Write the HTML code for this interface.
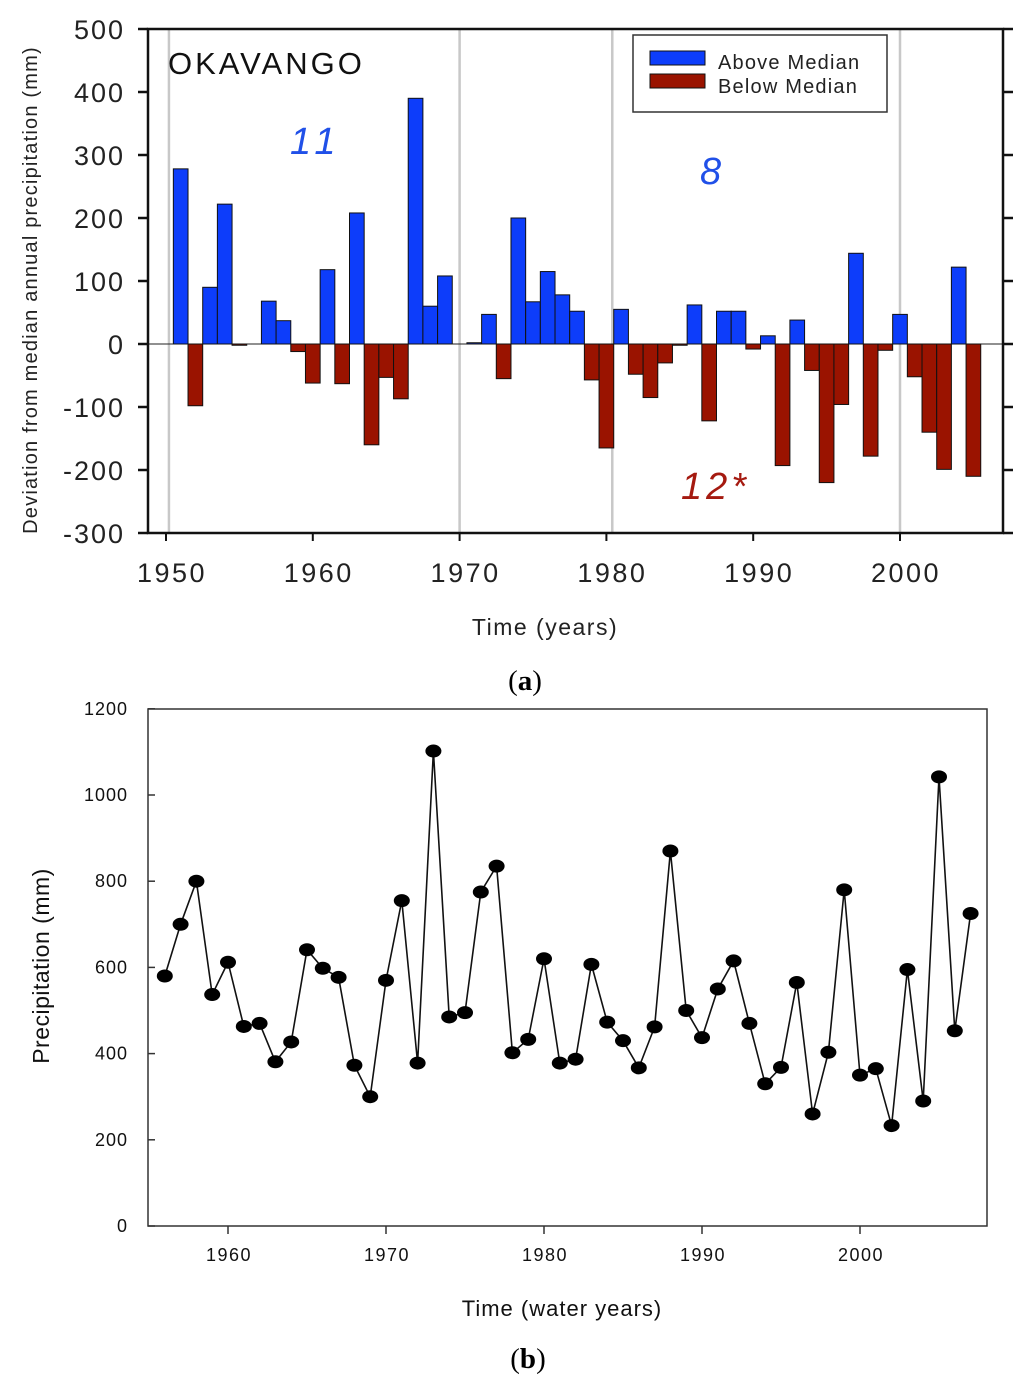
<!DOCTYPE html>
<html><head><meta charset="utf-8"><style>
body{margin:0;background:#fff;}
svg{display:block;font-family:"Liberation Sans",Arial,sans-serif;}
</style></head><body>
<svg width="1024" height="1377" viewBox="0 0 1024 1377">
<g id="chartA"></g>
<g id="chartB"></g>
</svg>
<script>
// ---- Chart (a) data ----
const yearsA = [1951,1952,1953,1954,1955,1956,1957,1958,1959,1960,1961,1962,1963,1964,1965,1966,1967,1968,1969,1970,1971,1972,1973,1974,1975,1976,1977,1978,1979,1980,1981,1982,1983,1984,1985,1986,1987,1988,1989,1990,1991,1992,1993,1994,1995,1996,1997,1998,1999,2000,2001,2002,2003,2004,2005];
const deviationA = [278,-98,90,222,-2,0,68,37,-12,-62,118,-63,208,-160,-53,-87,390,60,108,0,2,47,-55,200,67,115,78,52,-57,-165,55,-48,-85,-30,-2,62,-122,52,52,-8,13,-193,38,-42,-220,-96,144,-178,-10,47,-52,-140,-199,122,-210];
const yTicksA = [500,400,300,200,100,0,-100,-200,-300];
const xTicksA = [1950,1960,1970,1980,1990,2000];
const gridYearsA = [1950.2,1970,1980.4,2000];
// ---- Chart (b) data ----
const yearsB = [1956,1957,1958,1959,1960,1961,1962,1963,1964,1965,1966,1967,1968,1969,1970,1971,1972,1973,1974,1975,1976,1977,1978,1979,1980,1981,1982,1983,1984,1985,1986,1987,1988,1989,1990,1991,1992,1993,1994,1995,1996,1997,1998,1999,2000,2001,2002,2003,2004,2005,2006,2007];
const precipB = [580,700,800,537,612,463,470,381,427,641,598,577,373,300,570,755,378,1102,485,495,775,835,402,433,620,378,387,607,473,430,367,462,870,500,437,550,615,470,330,368,565,260,403,780,350,365,233,595,290,1042,453,725];
const yTicksB = [0,200,400,600,800,1000,1200];
const xTicksB = [1960,1970,1980,1990,2000];

const NS="http://www.w3.org/2000/svg";
function mk(parent,tag,attrs,text){const e=document.createElementNS(NS,tag);for(const k in attrs)e.setAttribute(k,attrs[k]);if(text!==undefined)e.textContent=text;parent.appendChild(e);return e;}

// ---------- Chart A ----------
(function(){
const g=document.getElementById('chartA');
const L=148,R=1003,T=29,B=533;
const xA=y=>166+(y-1950)*14.68;
const yA=v=>344-v*0.63;
gridYearsA.forEach(gy=>{const l=mk(g,'line',{x1:xA(gy),x2:xA(gy),y1:T,y2:B,stroke:'#c8c8c8','stroke-width':2.5});

});
const z=mk(g,'line',{x1:L,x2:1012,y1:yA(0),y2:yA(0),stroke:'#222','stroke-width':1});


const w=14.68;
yearsA.forEach((yr,i)=>{const v=deviationA[i];if(v===0)return;
const y0=yA(Math.max(v,0)),h=Math.abs(yA(v)-yA(0));
const r=mk(g,'rect',{x:xA(yr)-w/2,y:y0,width:w,height:h,fill:v>0?'#0d3dfa':'#9a1300',stroke:'#111','stroke-width':1});

});
const fr=mk(g,'path',{d:`M${L},${T} H${R} V${B} H${L} Z`,fill:'none',stroke:'#111','stroke-width':2.5});


yTicksA.forEach(v=>{mk(g,'line',{x1:L-10,x2:L,y1:yA(v),y2:yA(v),stroke:'#111','stroke-width':2.5});
mk(g,'line',{x1:R,x2:R+10,y1:yA(v),y2:yA(v),stroke:'#111','stroke-width':2.5});
const t=mk(g,'text',{x:125,y:yA(v)+10,'text-anchor':'end','font-size':27,'letter-spacing':2,fill:'#222'},String(v));

});
xTicksA.forEach(v=>{mk(g,'line',{x1:xA(v),x2:xA(v),y1:B,y2:B+8,stroke:'#111','stroke-width':2});
const t=mk(g,'text',{x:xA(v)+6,y:582,'text-anchor':'middle','font-size':27,'letter-spacing':2.5,fill:'#222'},String(v));

});
const yt=mk(g,'text',{x:0,y:0,transform:'translate(37,290) rotate(-90)','text-anchor':'middle','font-size':20,'letter-spacing':1.2,fill:'#222'},'Deviation from median annual precipitation (mm)');


const xt=mk(g,'text',{x:545,y:635,'text-anchor':'middle','font-size':23,'letter-spacing':1.5,fill:'#222'},'Time (years)');


const ok=mk(g,'text',{x:168,y:74,'font-size':31,'letter-spacing':3,fill:'#111'},'OKAVANGO');


const a1=mk(g,'text',{x:290,y:154,'font-size':38,'letter-spacing':6,fill:'#2050e8','font-style':'italic'},'11');


const a2=mk(g,'text',{x:700,y:184,'font-size':38,fill:'#2050e8','font-style':'italic'},'8');


const b2=mk(g,'text',{x:681,y:499,'font-size':38,'letter-spacing':4,fill:'#a51a10','font-style':'italic'},'12*');


const lg=mk(g,'g',{});


mk(lg,'rect',{x:633,y:35,width:254,height:77,fill:'#fff',stroke:'#333','stroke-width':1.5});
mk(lg,'rect',{x:650,y:51,width:55,height:14,fill:'#0d3dfa',stroke:'#111','stroke-width':1});
mk(lg,'rect',{x:650,y:74,width:55,height:14,fill:'#9a1300',stroke:'#111','stroke-width':1});
const l1=mk(lg,'text',{x:718,y:69,'font-size':20,'letter-spacing':1.2,fill:'#222'},'Above Median');


const l2=mk(lg,'text',{x:718,y:93,'font-size':20,'letter-spacing':1.2,fill:'#222'},'Below Median');


const pa=mk(g,'text',{x:525,y:690,'text-anchor':'middle','font-size':29,'font-family':'Liberation Serif, serif',fill:'#000'},'');


mk(pa,'tspan',{},'(');mk(pa,'tspan',{'font-weight':'bold'},'a');mk(pa,'tspan',{},')');
})();

// ---------- Chart B ----------
(function(){
const g=document.getElementById('chartB');
const L=148,R=987,T=709,B=1226;
const xB=y=>228+(y-1960)*15.8;
const yB=v=>1226-v*0.431;
const fr=mk(g,'rect',{x:L,y:T,width:R-L,height:B-T,fill:'none',stroke:'#333','stroke-width':1.5});


yTicksB.forEach(v=>{mk(g,'line',{x1:L,x2:L+7,y1:yB(v),y2:yB(v),stroke:'#333','stroke-width':1.5});
const t=mk(g,'text',{x:128,y:yB(v)+6,'text-anchor':'end','font-size':18,'letter-spacing':1,fill:'#111'},String(v));

});
xTicksB.forEach(v=>{mk(g,'line',{x1:xB(v),x2:xB(v),y1:B,y2:B+8,stroke:'#333','stroke-width':1.5});
const t=mk(g,'text',{x:xB(v)+1,y:1261,'text-anchor':'middle','font-size':18,'letter-spacing':1.5,fill:'#111'},String(v));

});
const pts=yearsB.map((yr,i)=>xB(yr)+','+yB(precipB[i])).join(' ');
const pl=mk(g,'polyline',{points:pts,fill:'none',stroke:'#111','stroke-width':1.6});


yearsB.forEach((yr,i)=>{const c=mk(g,'ellipse',{cx:xB(yr),cy:yB(precipB[i]),rx:8,ry:6.5,fill:'#000'});

});
const yt=mk(g,'text',{x:0,y:0,transform:'translate(49,966) rotate(-90)','text-anchor':'middle','font-size':23,'letter-spacing':0.5,fill:'#111'},'Precipitation (mm)');


const xt=mk(g,'text',{x:562,y:1316,'text-anchor':'middle','font-size':22,'letter-spacing':1,fill:'#111'},'Time (water years)');


const pb=mk(g,'text',{x:528,y:1368,'text-anchor':'middle','font-size':29,'font-family':'Liberation Serif, serif',fill:'#000'},'');


mk(pb,'tspan',{},'(');mk(pb,'tspan',{'font-weight':'bold'},'b');mk(pb,'tspan',{},')');
})();
</script>
</body></html>
